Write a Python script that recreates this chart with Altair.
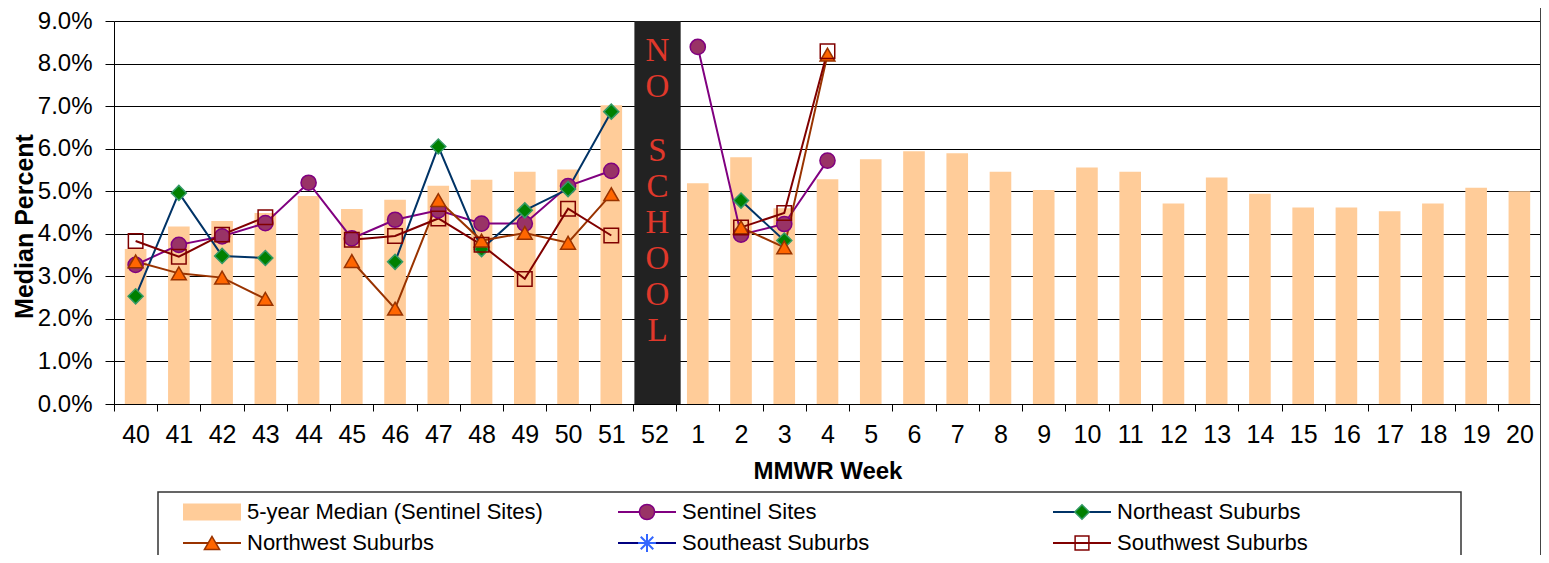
import altair as alt
import pandas as pd

# ---------------- data ----------------
weeks = ["40", "41", "42", "43", "44", "45", "46", "47", "48", "49", "50", "51", "52",
         "1", "2", "3", "4", "5", "6", "7", "8", "9", "10", "11", "12", "13", "14",
         "15", "16", "17", "18", "19", "20"]

median5 = [3.64, 4.17, 4.30, 4.49, 4.89, 4.58, 4.80, 5.13, 5.27, 5.46, 5.51, 7.02, None,
           5.19, 5.80, 4.60, 5.28, 5.75, 5.94, 5.89, 5.46, 5.03, 5.56, 5.46, 4.71, 5.32,
           4.94, 4.62, 4.62, 4.53, 4.71, 5.08, 5.00]

sentinel = [3.27, 3.74, 3.94, 4.25, 5.20, 3.89, 4.33, 4.55, 4.24, 4.24, 5.12, 5.48, None,
            8.39, 3.98, 4.23, 5.72] + [None] * 16

northeast = [2.53, 4.96, 3.48, 3.43, None, None, 3.34, 6.05, 3.64, 4.55, 5.05, 6.87, None,
             None, 4.78, 3.84, None] + [None] * 16

northwest = [3.35, 3.07, 2.97, 2.47, None, 3.36, 2.24, 4.79, 3.84, 4.02, 3.79, 4.93, None,
             None, 4.15, 3.68, 8.21] + [None] * 16

southeast = [None] * 33

southwest = [3.83, 3.46, 3.98, 4.39, None, 3.86, 3.95, 4.36, 3.74, 2.94, 4.59, 3.96, None,
             None, 4.15, 4.49, 8.29] + [None] * 16

no_school_week = "52"
no_school_top = 9.0
no_school_words = ["NO", "SCHOOL"]

median_name = "5-year Median (Sentinel Sites)"
series_names = ["Sentinel Sites", "Northeast Suburbs", "Northwest Suburbs",
                "Southeast Suburbs", "Southwest Suburbs"]
series_values = [sentinel, northeast, northwest, southeast, southwest]

legend_names = [median_name, "Sentinel Sites", "Northeast Suburbs",
                "Northwest Suburbs", "Southeast Suburbs", "Southwest Suburbs"]
legend_col = [0, 1, 2, 0, 1, 2]
legend_row = [0, 0, 0, 1, 1, 1]

# ---------------- styles ----------------
FONT = "Liberation Sans"
BAR_COLOR = "#FFCC99"
ASTERISK = "M-1,0L1,0M0,-1L0,1M-0.7,-0.7L0.7,0.7M-0.7,0.7L0.7,-0.7"
line_colors = ["#800080", "#003366", "#993300", "#000080", "#800000"]
marker_shapes = ["circle", "diamond", "triangle-up", ASTERISK, "square"]
marker_fills = ["#993366", "#008000", "#FF6600", "transparent", "transparent"]
marker_strokes = ["#800080", "#339966", "#993300", "#3366FF", "#800000"]
marker_sizes = [230, 210, 230, 320, 190]

W, H = 1427, 383

# ---------------- tables ----------------
bar_df = pd.DataFrame({"week": weeks, "value": median5}).dropna()

rows = []
for name, vals in zip(series_names, series_values):
    seg = 0
    for i, (wk, v) in enumerate(zip(weeks, vals)):
        if v is None:
            seg += 1
            continue
        rows.append({"series": name, "week": wk, "idx": i, "value": v,
                     "seg": f"{name}-{seg}"})
line_df = pd.DataFrame(rows)

ns_df = pd.DataFrame({"week": [no_school_week], "value": [no_school_top]})

leg_df = pd.DataFrame({"name": legend_names, "col": legend_col, "row": legend_row})
style_map = {n: (c, s, f, st, sz) for n, c, s, f, st, sz in
             zip(series_names, line_colors, marker_shapes, marker_fills,
                 marker_strokes, marker_sizes)}
leg_df["lcolor"] = [style_map[n][0] if n in style_map else BAR_COLOR for n in legend_names]
leg_df["shape"] = [style_map[n][1] if n in style_map else "square" for n in legend_names]
leg_df["mfill"] = [style_map[n][2] if n in style_map else BAR_COLOR for n in legend_names]
leg_df["mstroke"] = [style_map[n][3] if n in style_map else BAR_COLOR for n in legend_names]
leg_df["msize"] = [style_map[n][4] if n in style_map else 0 for n in legend_names]
leg_df["mwidth"] = [2.0 if n == "Southeast Suburbs" else 1.5 for n in legend_names]

# ---------------- encodings ----------------
x_axis = alt.Axis(labelAngle=0, tickBand="extent", tickSize=7, tickColor="black",
                  domainColor="black", grid=False, labelFont=FONT, labelFontSize=25,
                  labelColor="black", labelBaseline="alphabetic", labelPadding=31,
                  title="MMWR Week", titleFont=FONT, titleFontSize=24,
                  titleFontWeight="bold", titleColor="black",
                  titleBaseline="alphabetic", titleY=74)
y_axis = alt.Axis(values=list(range(10)),
                  labelExpr="format(datum.value, '.1f') + '%'",
                  grid=True, gridColor="black", gridWidth=1, gridOpacity=1,
                  domainColor="black", tickColor="black", tickSize=9,
                  labelPadding=13, labelFont=FONT, labelFontSize=24, labelColor="black",
                  title="Median Percent", titleFont=FONT, titleFontSize=25,
                  titleFontWeight="bold", titleColor="black",
                  titleBaseline="alphabetic", titleX=-82, titleY=205)

x_scale = alt.Scale(domain=weeks, paddingInner=0, paddingOuter=0)
y_scale = alt.Scale(domain=[0, 9], nice=False)


def xe():
    return alt.X("week:O", scale=x_scale, axis=x_axis, title="MMWR Week")


def ye():
    return alt.Y("value:Q", scale=y_scale, axis=y_axis, title="Median Percent")


bars = alt.Chart(bar_df).mark_bar(color=BAR_COLOR, width={"band": 0.5}).encode(x=xe(), y=ye())

black = alt.Chart(ns_df).mark_bar(color="#222222", width={"band": 1.07}, xOffset=3).encode(
    x=xe(), y=ye())

lines = alt.Chart(line_df).mark_line(strokeWidth=2).encode(
    x=xe(), y=ye(),
    color=alt.Color("series:N", scale=alt.Scale(domain=series_names, range=line_colors),
                    legend=None),
    detail="seg:N",
    order="idx:Q",
)

points = alt.Chart(line_df).mark_point(opacity=1, strokeWidth=1.5, filled=False).encode(
    x=xe(), y=ye(),
    shape=alt.Shape("series:N", scale=alt.Scale(domain=series_names, range=marker_shapes),
                    legend=None),
    fill=alt.Fill("series:N", scale=alt.Scale(domain=series_names, range=marker_fills),
                  legend=None),
    stroke=alt.Stroke("series:N", scale=alt.Scale(domain=series_names, range=marker_strokes),
                      legend=None),
    size=alt.Size("series:N", scale=alt.Scale(domain=series_names, range=marker_sizes),
                  legend=None),
)

ns_text_no = alt.Chart(pd.DataFrame({"week": [no_school_week],
                                     "txt": ["\n".join(no_school_words[0])]})).mark_text(
    font="Liberation Serif", fontSize=33, color="#E0382B", lineBreak="\n", lineHeight=36,
    baseline="top", dx=3).encode(x=xe(), y=alt.value(14), text="txt:N")

ns_text_school = alt.Chart(pd.DataFrame({"week": [no_school_week],
                                         "txt": ["\n".join(no_school_words[1])]})).mark_text(
    font="Liberation Serif", fontSize=33, color="#E0382B", lineBreak="\n", lineHeight=36,
    baseline="top", dx=3).encode(x=xe(), y=alt.value(114), text="txt:N")

right_rule = alt.Chart(pd.DataFrame({"a": [0]})).mark_rule(color="#444444", strokeWidth=2).encode(
    x=alt.value(W), y=alt.value(-13), y2=alt.value(540))

data_layer = alt.layer(bars, black, lines, points, ns_text_no, ns_text_school, right_rule)

# ---------------- legend ----------------
lx = alt.Scale(domain=[0, 2], range=[69, 939])
ly = alt.Scale(domain=[0, 1], range=[491, 522])

frame = alt.Chart(pd.DataFrame({"a": [0]})).mark_rect(
    fill="transparent", stroke="#333333", strokeWidth=1.5).encode(
    x=alt.value(44), x2=alt.value(1347), y=alt.value(471), y2=alt.value(560))

leg_bar = alt.Chart(leg_df[leg_df["name"] == median_name]).mark_rect(
    color=BAR_COLOR, x2Offset=58, yOffset=-8.5, y2Offset=8.5).encode(
    x=alt.X("col:Q", scale=lx, axis=None), x2="col:Q",
    y=alt.Y("row:Q", scale=ly, axis=None), y2="row:Q")

leg_sub = leg_df[leg_df["name"] != median_name]
leg_lines = alt.Chart(leg_sub).mark_rule(strokeWidth=2, x2Offset=58).encode(
    x=alt.X("col:Q", scale=lx, axis=None), x2="col:Q",
    y=alt.Y("row:Q", scale=ly, axis=None),
    color=alt.Color("lcolor:N", scale=None))

leg_pts = alt.Chart(leg_sub).mark_point(opacity=1, xOffset=29).encode(
    x=alt.X("col:Q", scale=lx, axis=None),
    y=alt.Y("row:Q", scale=ly, axis=None),
    shape=alt.Shape("shape:N", scale=None),
    fill=alt.Fill("mfill:N", scale=None),
    stroke=alt.Stroke("mstroke:N", scale=None),
    size=alt.Size("msize:Q", scale=None),
    strokeWidth=alt.StrokeWidth("mwidth:Q", scale=None))

leg_text = alt.Chart(leg_df).mark_text(
    align="left", baseline="middle", dx=64, font=FONT, fontSize=22, color="black").encode(
    x=alt.X("col:Q", scale=lx, axis=None),
    y=alt.Y("row:Q", scale=ly, axis=None),
    text="name:N")

legend_layer = alt.layer(frame, leg_bar, leg_lines, leg_pts, leg_text)

chart = alt.layer(data_layer, legend_layer).resolve_scale(
    x="independent", y="independent"
).properties(
    width=W, height=H,
    autosize=alt.AutoSizeParams(type="none"),
    padding={"left": 106, "top": 13, "right": 0, "bottom": 151},
).configure_view(stroke=None)

chart.save("out.html", embed_options={"renderer": "svg", "actions": False})
